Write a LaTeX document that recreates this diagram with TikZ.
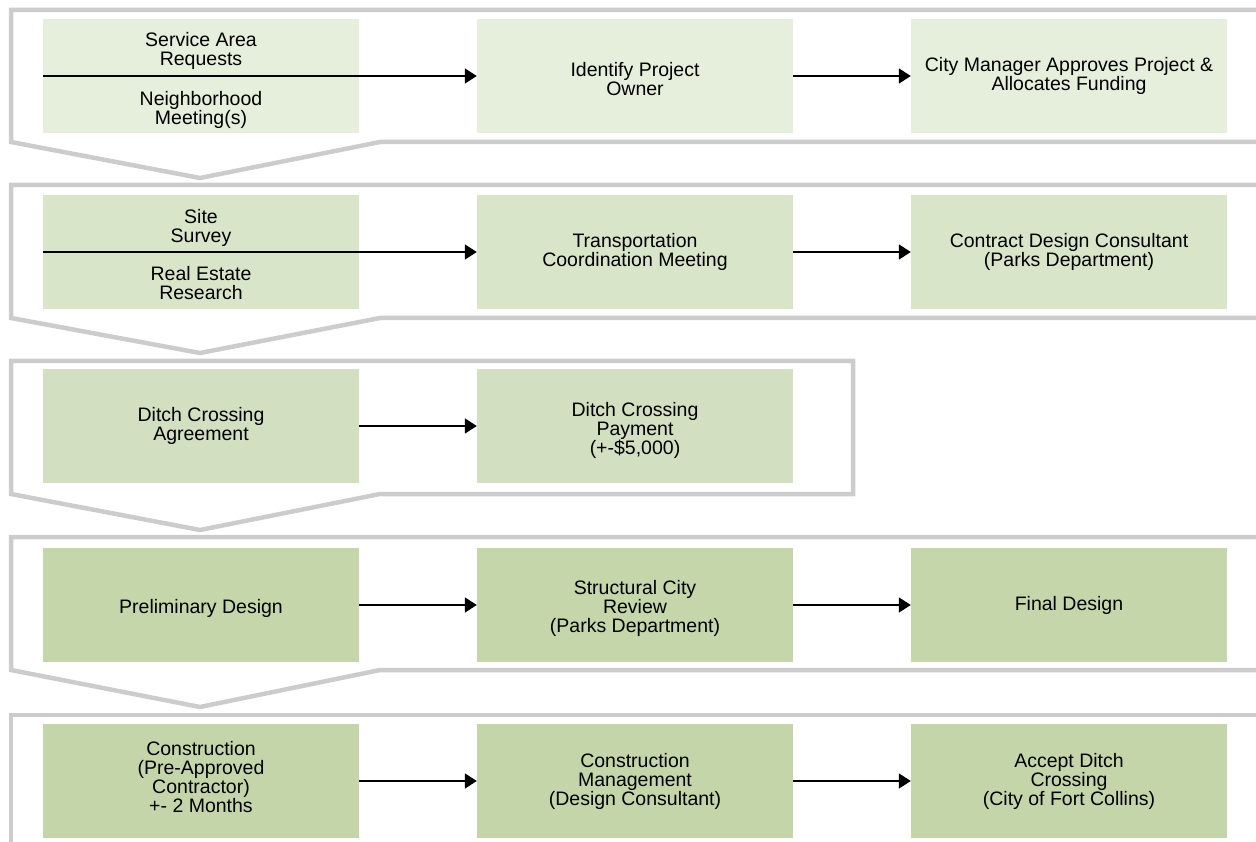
\documentclass[tikz,border=0pt]{standalone}
\usepackage{fontspec}
\setmainfont{Liberation Sans}
\usetikzlibrary{arrows.meta,positioning}

\definecolor{bandgray}{HTML}{CCCCCC}
\definecolor{stepA}{HTML}{E5EFDC}
\definecolor{stepB}{HTML}{D9E5C9}
\definecolor{stepC}{HTML}{D2DFC1}
\definecolor{stepD}{HTML}{C5D7AA}
\definecolor{stepE}{HTML}{C4D6A9}

\begin{document}
\begin{tikzpicture}[x=1pt, y=-1pt,
        box/.style={rectangle, minimum width=316pt, minimum height=114pt, align=center, inner sep=0pt,
            font=\fontsize{19.5}{19}\selectfont},
        txt/.style={align=center, inner sep=0pt, font=\fontsize{19.5}{19}\selectfont},
        band/.style={draw=bandgray, line width=4.5pt, line join=miter},
        arrow/.style={-{Triangle[length=12pt,width=15pt]}, line width=1.8pt, draw=black}
    ]
        \useasboundingbox (0,0) rectangle (1256,842);

        % chevron bands
        \draw[band] (1262,10) -- (11,10) -- (11,142) -- (200,178) -- (380,142) -- (1262,142);
        \draw[band] (1262,185) -- (11,185) -- (11,318) -- (200,353) -- (380,318) -- (1262,318);
        \draw[band] (853,361) -- (11,361) -- (11,494) -- (200,530) -- (380,494) -- (853,494) -- cycle;
        \draw[band] (1262,537) -- (11,537) -- (11,670) -- (200,707) -- (380,670) -- (1262,670);
        \draw[band] (1262,715) -- (11,715) -- (11,850);

        % row 1
        \node[box, fill=stepA] (req) at (201,76) {};
        \node[txt] (sar) at (201,51) {Service Area\\Requests};
        \node[txt] (nbm) at (201,110) {Neighborhood\\Meeting(s)};
        \node[box, fill=stepA] (own) at (635,76) {};
        \node[txt] at (635,79) {Identify Project\\Owner};
        \node[box, fill=stepA] (cmf) at (1069,76) {City Manager Approves Project \&\\Allocates Funding};

        % row 2
        \node[box, fill=stepB] (srv) at (201,252) {};
        \node[txt] (sit) at (201,228) {Site\\Survey};
        \node[txt] (res) at (201,283) {Real Estate\\Research};
        \node[box, fill=stepB] (tcm) at (635,252) {Transportation\\Coordination Meeting};
        \node[box, fill=stepB] (cdc) at (1069,252) {Contract Design Consultant\\(Parks Department)};

        % row 3
        \node[box, fill=stepC] (dca) at (201,426) {Ditch Crossing\\Agreement};
        \node[box, fill=stepC] (dcp) at (635,426) {};
        \node[txt] at (635,430) {Ditch Crossing\\Payment\\(+-\$5,000)};

        % row 4
        \node[box, fill=stepD] (pre) at (201,605) {};
        \node[txt] at (201,608) {Preliminary Design};
        \node[box, fill=stepD] (scr) at (635,605) {};
        \node[txt] at (635,608) {Structural City\\Review\\(Parks Department)};
        \node[box, fill=stepD] (fin) at (1069,605) {Final Design};

        % row 5
        \node[box, fill=stepE] (con) at (201,781) {};
        \node[txt] at (201,777) {Construction\\(Pre-Approved\\Contractor)\\+- 2 Months};
        \node[box, fill=stepE] (cmg) at (635,781) {Construction\\Management\\(Design Consultant)};
        \node[box, fill=stepE] (acc) at (1069,781) {Accept Ditch\\Crossing\\(City of Fort Collins)};

        \draw[arrow] (req.west) -- (own.west);
        \draw[arrow] (own.east) -- (cmf.west);
        \draw[arrow] (srv.west) -- (tcm.west);
        \draw[arrow] (tcm.east) -- (cdc.west);
        \draw[arrow] (dca.east) -- (dcp.west);
        \draw[arrow] (pre.east) -- (scr.west);
        \draw[arrow] (scr.east) -- (fin.west);
        \draw[arrow] (con.east) -- (cmg.west);
        \draw[arrow] (cmg.east) -- (acc.west);
    \end{tikzpicture}
\end{document}
